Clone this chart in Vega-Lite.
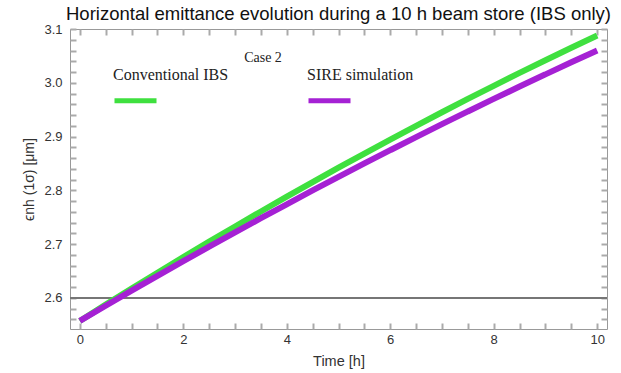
{
  "$schema": "https://vega.github.io/schema/vega-lite/v6.json",
  "width": 537,
  "height": 300,
  "autosize": {"type": "none"},
  "padding": {"left": 70, "top": 29, "right": 14, "bottom": 44},
  "background": "white",
  "title": {
    "text": "Horizontal emittance evolution during a 10 h beam store (IBS only)",
    "font": "Liberation Sans",
    "fontSize": 18.5,
    "fontWeight": "normal",
    "color": "#111",
    "anchor": "middle",
    "offset": 0
  },
  "config": {
    "view": {"stroke": "#999", "strokeWidth": 1},
    "style": {"guide-label": {"lineHeight": 52}},
    "axis": {
      "domain": false,
      "grid": false,
      "labelFont": "Liberation Sans",
      "labelFontSize": 13,
      "labelColor": "#333",
      "titleFont": "Liberation Sans",
      "titleFontWeight": "normal",
      "titleColor": "#333"
    }
  },
  "data": {
    "values": [
      {"t": 0, "eps": 2.557, "series": "Conventional IBS"},
      {"t": 0.5, "eps": 2.5873, "series": "Conventional IBS"},
      {"t": 1, "eps": 2.6171, "series": "Conventional IBS"},
      {"t": 1.5, "eps": 2.6466, "series": "Conventional IBS"},
      {"t": 2, "eps": 2.6757, "series": "Conventional IBS"},
      {"t": 2.5, "eps": 2.7044, "series": "Conventional IBS"},
      {"t": 3, "eps": 2.7327, "series": "Conventional IBS"},
      {"t": 3.5, "eps": 2.7606, "series": "Conventional IBS"},
      {"t": 4, "eps": 2.7881, "series": "Conventional IBS"},
      {"t": 4.5, "eps": 2.8153, "series": "Conventional IBS"},
      {"t": 5, "eps": 2.842, "series": "Conventional IBS"},
      {"t": 5.5, "eps": 2.8684, "series": "Conventional IBS"},
      {"t": 6, "eps": 2.8943, "series": "Conventional IBS"},
      {"t": 6.5, "eps": 2.9199, "series": "Conventional IBS"},
      {"t": 7, "eps": 2.9451, "series": "Conventional IBS"},
      {"t": 7.5, "eps": 2.9699, "series": "Conventional IBS"},
      {"t": 8, "eps": 2.9943, "series": "Conventional IBS"},
      {"t": 8.5, "eps": 3.0183, "series": "Conventional IBS"},
      {"t": 9, "eps": 3.0419, "series": "Conventional IBS"},
      {"t": 9.5, "eps": 3.0652, "series": "Conventional IBS"},
      {"t": 10, "eps": 3.088, "series": "Conventional IBS"},
      {"t": 0, "eps": 2.557, "series": "SIRE simulation"},
      {"t": 0.5, "eps": 2.5853, "series": "SIRE simulation"},
      {"t": 1, "eps": 2.6132, "series": "SIRE simulation"},
      {"t": 1.5, "eps": 2.6409, "series": "SIRE simulation"},
      {"t": 2, "eps": 2.6682, "series": "SIRE simulation"},
      {"t": 2.5, "eps": 2.6951, "series": "SIRE simulation"},
      {"t": 3, "eps": 2.7218, "series": "SIRE simulation"},
      {"t": 3.5, "eps": 2.7481, "series": "SIRE simulation"},
      {"t": 4, "eps": 2.774, "series": "SIRE simulation"},
      {"t": 4.5, "eps": 2.7997, "series": "SIRE simulation"},
      {"t": 5, "eps": 2.825, "series": "SIRE simulation"},
      {"t": 5.5, "eps": 2.85, "series": "SIRE simulation"},
      {"t": 6, "eps": 2.8746, "series": "SIRE simulation"},
      {"t": 6.5, "eps": 2.899, "series": "SIRE simulation"},
      {"t": 7, "eps": 2.923, "series": "SIRE simulation"},
      {"t": 7.5, "eps": 2.9466, "series": "SIRE simulation"},
      {"t": 8, "eps": 2.97, "series": "SIRE simulation"},
      {"t": 8.5, "eps": 2.993, "series": "SIRE simulation"},
      {"t": 9, "eps": 3.0156, "series": "SIRE simulation"},
      {"t": 9.5, "eps": 3.038, "series": "SIRE simulation"},
      {"t": 10, "eps": 3.06, "series": "SIRE simulation"}
    ]
  },
  "resolve": {"axis": {"x": "independent", "y": "independent"}},
  "layer": [
    {
      "mark": {"type": "rule", "color": "#777", "strokeWidth": 1},
      "encoding": {
        "y": {"datum": 2.6, "type": "quantitative", "scale": {"domain": [2.542, 3.1], "nice": false, "zero": false},
          "axis": {
            "orient": "left",
            "title": "ϵnh (1σ) [μm]",
            "titleFontSize": 14,
            "titlePadding": 7,
            "ticks": true,
            "tickColor": "#aaa",
            "tickSize": -6,
            "tickWidth": 2,
            "values": [2.56, 2.58, 2.6, 2.62, 2.64, 2.66, 2.68, 2.7, 2.72, 2.74, 2.76, 2.78, 2.8, 2.82, 2.84, 2.86, 2.88, 2.9, 2.92, 2.94, 2.96, 2.98, 3.0, 3.02, 3.04, 3.06, 3.08, 3.1],
            "labelExpr": "abs(datum.value*10 - round(datum.value*10)) < 0.001 ? format(datum.value, '.1f') : ''",
            "labelPadding": 14
          }
        }
      }
    },
    {
      "mark": {"type": "line", "strokeWidth": 6, "interpolate": "monotone"},
      "encoding": {
        "x": {"field": "t", "type": "quantitative", "scale": {"domain": [-0.19, 10.19], "nice": false, "zero": false},
          "axis": {
            "orient": "bottom",
            "title": "Time [h]",
            "titleFontSize": 14.5,
            "titlePadding": 8,
            "ticks": true,
            "tickColor": "#aaa",
            "tickWidth": 2,
            "tickSize": -6,
            "values": [0, 0.5, 1, 1.5, 2, 2.5, 3, 3.5, 4, 4.5, 5, 5.5, 6, 6.5, 7, 7.5, 8, 8.5, 9, 9.5, 10],
            "labelExpr": "datum.value % 2 === 0 ? format(datum.value, 'd') : ''",
            "labelPadding": 10
          }
        },
        "y": {"field": "eps", "type": "quantitative", "scale": {"domain": [2.542, 3.1], "nice": false, "zero": false},
          "axis": {
            "orient": "right",
            "title": null,
            "labels": false,
            "ticks": true,
            "tickColor": "#aaa",
            "tickWidth": 2,
            "tickSize": -6,
            "values": [2.56, 2.58, 2.6, 2.62, 2.64, 2.66, 2.68, 2.7, 2.72, 2.74, 2.76, 2.78, 2.8, 2.82, 2.84, 2.86, 2.88, 2.9, 2.92, 2.94, 2.96, 2.98, 3.0, 3.02, 3.04, 3.06, 3.08, 3.1]
          }
        },
        "color": {
          "field": "series",
          "type": "nominal",
          "scale": {"domain": ["Conventional IBS", "SIRE simulation"], "range": ["#3fe03f", "#a521d4"]},
          "legend": {
            "orient": "none",
            "legendX": 42,
            "legendY": 22,
            "direction": "horizontal",
            "title": "Case 2",
            "titleFont": "Liberation Serif",
            "titleFontSize": 14,
            "titleFontWeight": "normal",
            "titleColor": "#222",
            "titleAnchor": "middle",
            "titlePadding": 12,
            "labelFont": "Liberation Serif",
            "labelFontSize": 16,
            "labelColor": "#222",
            "labelBaseline": "line-bottom",
            "labelOffset": -46,
            "columnPadding": 69,
            "symbolType": "stroke",
            "symbolSize": 1764,
            "symbolStrokeWidth": 5,
            "padding": 0
          }
        }
      }
    },
    {
      "mark": {"type": "line", "opacity": 0},
      "encoding": {
        "x": {"field": "t", "type": "quantitative",
          "axis": {
            "orient": "top",
            "title": null,
            "labels": false,
            "ticks": true,
            "tickColor": "#aaa",
            "tickWidth": 2,
            "tickSize": -6,
            "values": [0, 0.5, 1, 1.5, 2, 2.5, 3, 3.5, 4, 4.5, 5, 5.5, 6, 6.5, 7, 7.5, 8, 8.5, 9, 9.5, 10]
          }
        },
        "y": {"field": "eps", "type": "quantitative", "axis": null},
        "detail": {"field": "series"}
      }
    }
  ]
}
